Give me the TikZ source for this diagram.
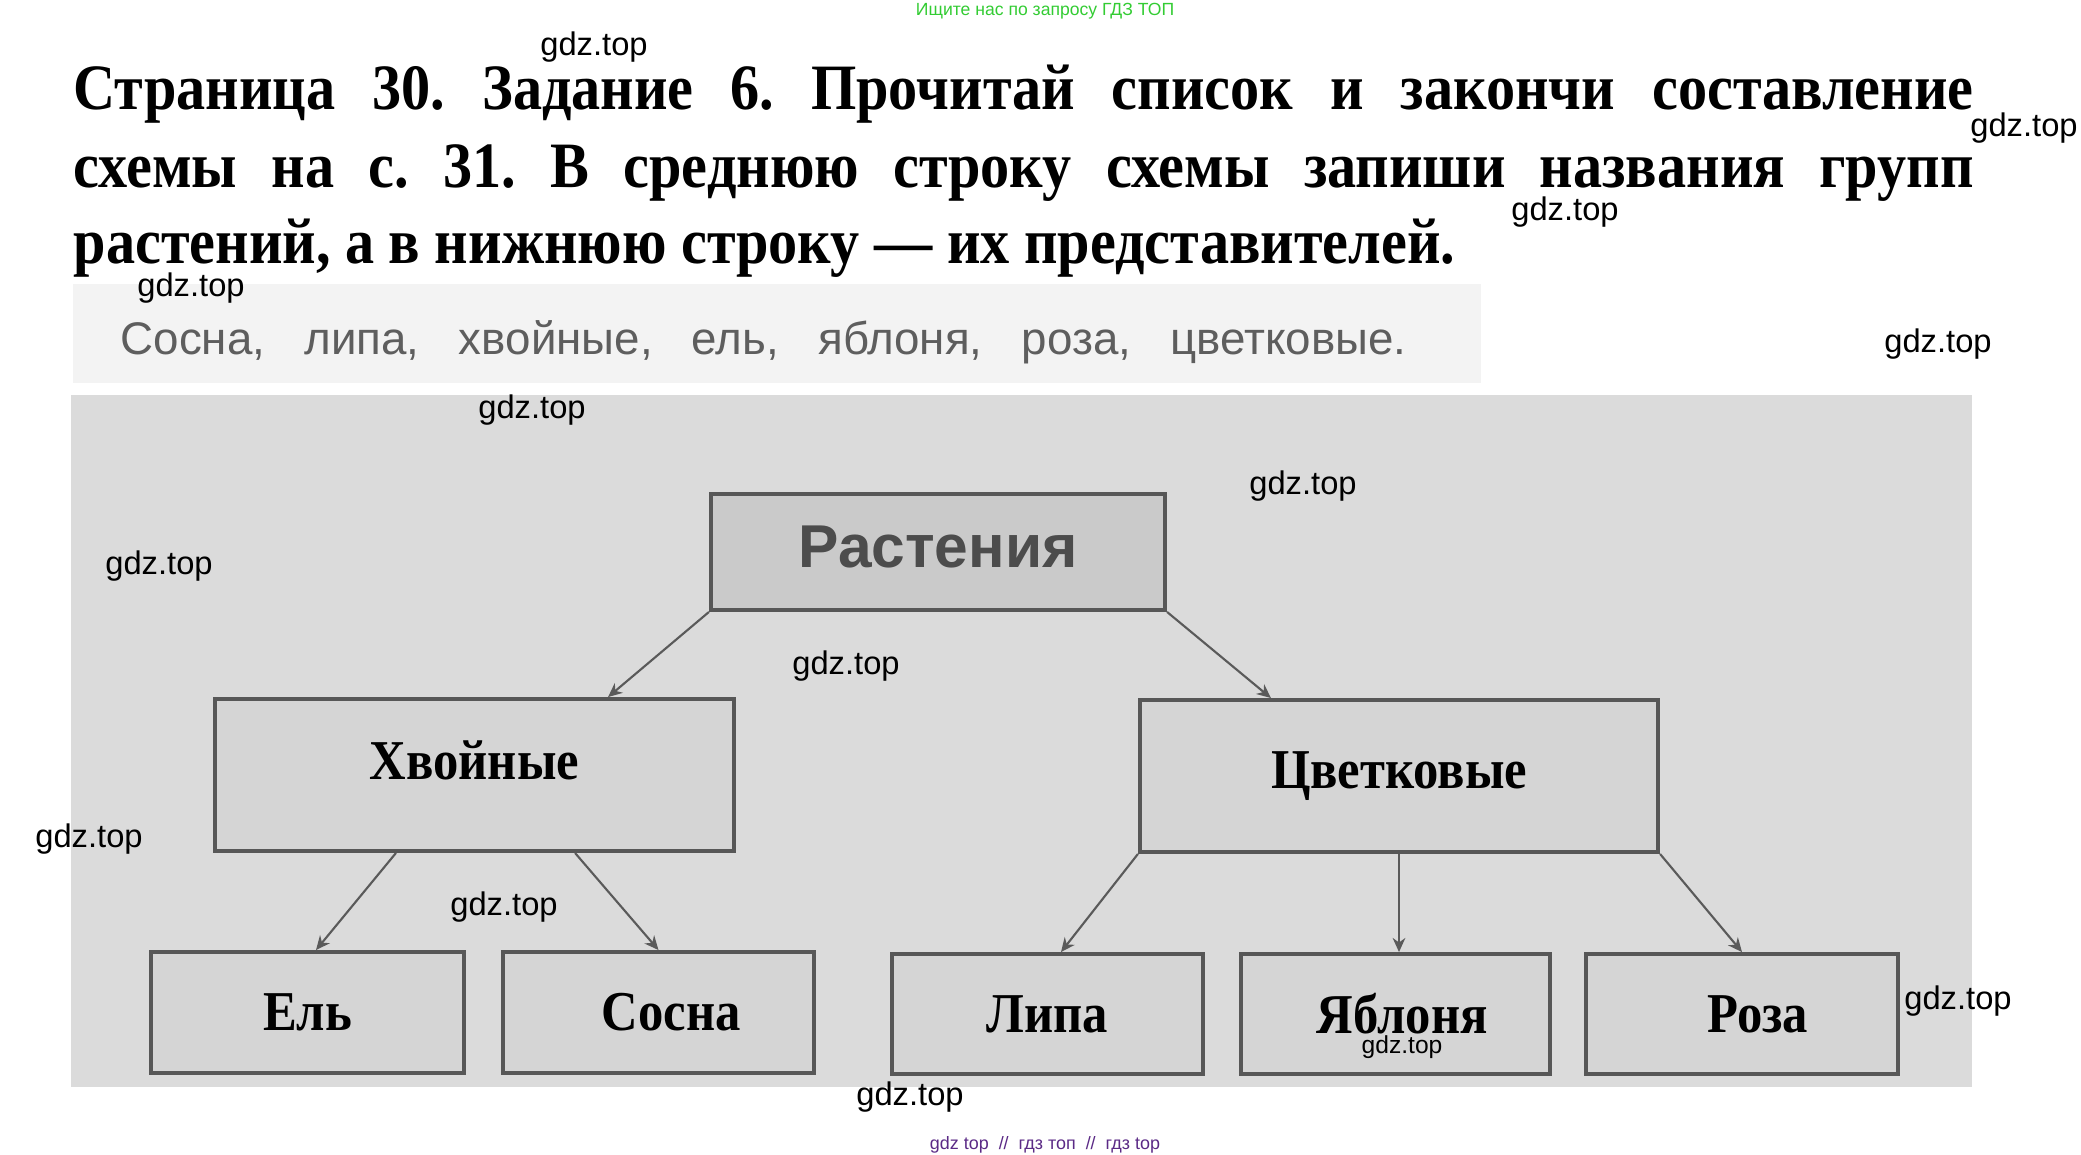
\documentclass[tikz,border=0pt]{standalone}
\usepackage{fontspec}
\setmainfont{Liberation Serif}
\newfontfamily\wmfont{Liberation Sans}
\newfontfamily\boxfont[FakeStretch=0.9]{Liberation Serif}
\newfontfamily\titlefont[FakeStretch=0.9]{Liberation Serif}
\frenchspacing
\usetikzlibrary{arrows.meta}
\definecolor{bggray}{HTML}{DBDBDB}
\definecolor{boxfill}{HTML}{D5D5D5}
\definecolor{rastfill}{HTML}{CACACA}
\definecolor{framegray}{HTML}{575757}
\definecolor{arrgray}{HTML}{5A5A5A}
\definecolor{stripfill}{HTML}{F3F3F3}
\definecolor{listgray}{HTML}{5E5E5E}
\definecolor{topgreen}{HTML}{33CC33}
\definecolor{botpurple}{HTML}{5B2A86}

\begin{document}
\begin{tikzpicture}[x=0.01cm,y=-0.01cm,
  title/.style={anchor=base west,inner sep=0pt,font=\titlefont\bfseries\fontsize{18.4}{22}\selectfont},
  box/.style={draw=framegray,line width=1.1pt,fill=boxfill,inner sep=0pt,font=\boxfont\bfseries\fontsize{16}{16}\selectfont},
  arr/.style={draw=arrgray,line width=0.6pt,-{Stealth[length=4pt,width=3.6pt]}},
  wm/.style={inner sep=0pt,font=\wmfont\fontsize{9.3}{9.3}\selectfont}]
  \useasboundingbox (0,0) rectangle (2081,1154);
  \fill[white] (0,0) rectangle (2081,1154);
  % task text
  \node[title] (line1) at (73,109) {\makebox[18.99cm][s]{Страница 30. Задание 6. Прочитай список и закончи составление}};
  \node[title] (line2) at (73,187) {\makebox[18.99cm][s]{схемы на с. 31. В среднюю строку схемы запиши названия групп}};
  \node[title] (line3) at (73,263) {растений, а в нижнюю строку — их представителей.};
  % list from the book
  \fill[stripfill] (73,284) rectangle (1481,383);
  \node[anchor=base west,inner sep=0pt,text=listgray,font=\wmfont\fontsize{13}{13}\selectfont] (list) at (120,354)
    {\makebox[12.85cm][s]{Сосна, липа, хвойные, ель, яблоня, роза, цветковые.}};
  % scheme
  \fill[bggray] (71,395) rectangle (1972,1087);
  \node[box,fill=rastfill,minimum width=4.54cm,minimum height=1.16cm,text=black!70,font=\wmfont\bfseries\fontsize{17.2}{17.2}\selectfont] (rast) at (938,552) {\raisebox{3pt}{Растения}};
  \node[box,minimum width=5.19cm,minimum height=1.52cm] (hvoy) at (474.5,775) {\raisebox{8.4pt}{Хвойные}};
  \node[box,minimum width=5.18cm,minimum height=1.52cm] (cvet) at (1399,776) {Цветковые};
  \node[box,minimum width=3.13cm,minimum height=1.21cm] (el) at (307.5,1012.5) {Ель};
  \node[box,minimum width=3.11cm,minimum height=1.21cm] (sosna) at (658.5,1012.5) {\hspace*{7.2pt}Сосна};
  \node[box,minimum width=3.11cm,minimum height=1.20cm] (lipa) at (1047.5,1014) {Липа};
  \node[box,minimum width=3.09cm,minimum height=1.20cm] (yabl) at (1395.5,1014) {\hspace*{3.8pt}Яблоня};
  \node[box,minimum width=3.12cm,minimum height=1.20cm] (roza) at (1742,1014) {\hspace*{9pt}Роза};
  \draw[arr] (rast.south west) -- ([xshift=1.335cm]hvoy.north);
  \draw[arr] (rast.south east) -- ([xshift=-1.28cm]cvet.north);
  \draw[arr] ([xshift=-0.785cm]hvoy.south) -- ([xshift=0.085cm]el.north);
  \draw[arr] ([xshift=1.005cm]hvoy.south) -- (sosna.north);
  \draw[arr] (cvet.south west) -- ([xshift=0.135cm]lipa.north);
  \draw[arr] (cvet.south) -- (cvet.south |- yabl.north);
  \draw[arr] (cvet.south east) -- (roza.north);
  % watermarks
  \node[inner sep=0pt,text=topgreen,font=\wmfont\fontsize{5}{5}\selectfont] (ask) at (1045,11) {Ищите нас по запросу ГДЗ ТОП};
  \foreach \x/\y [count=\i] in {594/47,2024/128,1565/212,191/288,1938/344,532/410,1303/486,159/566,846/666,89/839,504/907,1958/1001,910/1097}
    \node[wm] (wm\i) at (\x,\y) {gdz.top};
  \node[wm,font=\wmfont\fontsize{7}{7}\selectfont] (wmyabl) at (1402,1047) {gdz.top};
  \node[inner sep=0pt,text=botpurple,font=\wmfont\fontsize{5.1}{5.1}\selectfont] (sites) at (1045,1145) {gdz top~~//~~гдз топ~~//~~гдз top};
\end{tikzpicture}
\end{document}
